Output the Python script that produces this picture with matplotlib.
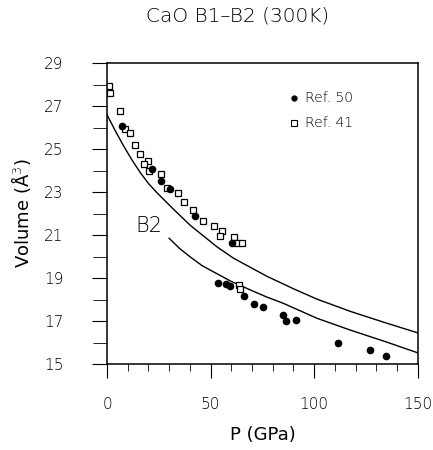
import matplotlib
matplotlib.use("Agg")
import matplotlib.pyplot as plt
from matplotlib.ticker import MultipleLocator

# theory curves (P in GPa, V in A^3)
b1_p = [0, 4.0, 8.0, 12.0, 16.1, 20.0, 24.1, 32.1, 40.2, 53.1, 61.1, 77.2, 90.0, 101.3, 117.4, 135.0, 150]
b1_v = [26.6, 25.85, 25.15, 24.5, 23.9, 23.4, 22.97, 22.2, 21.45, 20.45, 19.92, 19.08, 18.5, 18.02, 17.45, 16.9, 16.45]

b2_p = [30.0, 35.0, 40.2, 46.0, 53.1, 60.0, 69.1, 77.0, 85.2, 101.3, 117.4, 135.0, 150]
b2_v = [20.85, 20.38, 19.98, 19.57, 19.2, 18.84, 18.45, 18.12, 17.82, 17.13, 16.58, 16.02, 15.52]

# Ref. 41 (open squares)
ref41_p = [0.8, 1.6, 6.1, 8.5, 10.9, 13.3, 16.1, 19.6, 18.0, 20.5, 26.0, 29.2, 34.5,
           37.4, 41.5, 46.3, 51.8, 55.5, 54.7, 61.4, 62.7, 65.1, 63.5, 64.3]
ref41_v = [27.93, 27.59, 26.78, 25.93, 25.76, 25.19, 24.77, 24.46, 24.29, 23.99, 23.82,
           23.2, 22.97, 22.55, 22.16, 21.67, 21.42, 21.2, 20.95, 20.92, 20.64, 20.61,
           18.67, 18.47]

# Ref. 50 (filled circles)
ref50_p = [7.5, 21.7, 26.2, 30.5, 42.6, 60.3, 53.4, 57.5, 59.5, 65.9, 71.1, 75.1,
           84.7, 86.5, 91.2, 111.4, 127.0, 134.6]
ref50_v = [26.07, 24.08, 23.51, 23.13, 21.9, 20.64, 18.78, 18.72, 18.64, 18.16, 17.8,
           17.64, 17.28, 17.01, 17.05, 15.96, 15.65, 15.37]

plt.rcParams["font.family"] = "DejaVu Sans"
plt.rcParams["font.weight"] = "light"

fig = plt.figure(figsize=(4.33, 4.50), dpi=100)
ax = fig.add_axes([0.247, 0.191, 0.718, 0.669])

ax.plot(b1_p, b1_v, color="black", lw=1.0)
ax.plot(b2_p, b2_v, color="black", lw=1.0)
ax.plot(ref41_p, ref41_v, "s", mfc="white", mec="black", mew=0.9, ms=5, ls="none")
ax.plot(ref50_p, ref50_v, "o", color="black", ms=4.5, ls="none")

ax.text(20.3, 21.4, "B2", fontsize=15, ha="center", va="center")

# legend drawn by hand
ax.plot([0.601], [0.885], "o", color="black", ms=3.5, transform=ax.transAxes, clip_on=False)
ax.text(0.637, 0.885, "Ref. 50", fontsize=10, va="center", transform=ax.transAxes)
ax.plot([0.601], [0.802], "s", mfc="white", mec="black", mew=0.8, ms=4,
        transform=ax.transAxes, clip_on=False)
ax.text(0.637, 0.802, "Ref. 41", fontsize=10, va="center", transform=ax.transAxes)

ax.set_xlim(0, 150)
ax.set_ylim(15, 29)
ax.xaxis.set_major_locator(MultipleLocator(50))
ax.xaxis.set_minor_locator(MultipleLocator(10))
ax.yaxis.set_major_locator(MultipleLocator(2, offset=1))
ax.yaxis.set_minor_locator(MultipleLocator(1))
ax.tick_params(which="both", direction="out", top=False, right=False, labelsize=11)
ax.tick_params(axis="x", which="major", length=10, pad=14)
ax.tick_params(axis="x", which="minor", length=5)
ax.tick_params(axis="y", which="major", length=11, pad=20)
ax.tick_params(axis="y", which="minor", length=10)
for s in ax.spines.values():
    s.set_linewidth(1.1)

ax.set_xlabel("P (GPa)", fontsize=13, labelpad=10)
ax.set_ylabel("Volume (Å$^3$)", fontsize=13, labelpad=8)
fig.text(238 / 433, 1 - 16 / 450, "CaO B1\u2013B2 (300K)", fontsize=14.5, ha="center", va="center")

fig.savefig("out.png", dpi=100)
